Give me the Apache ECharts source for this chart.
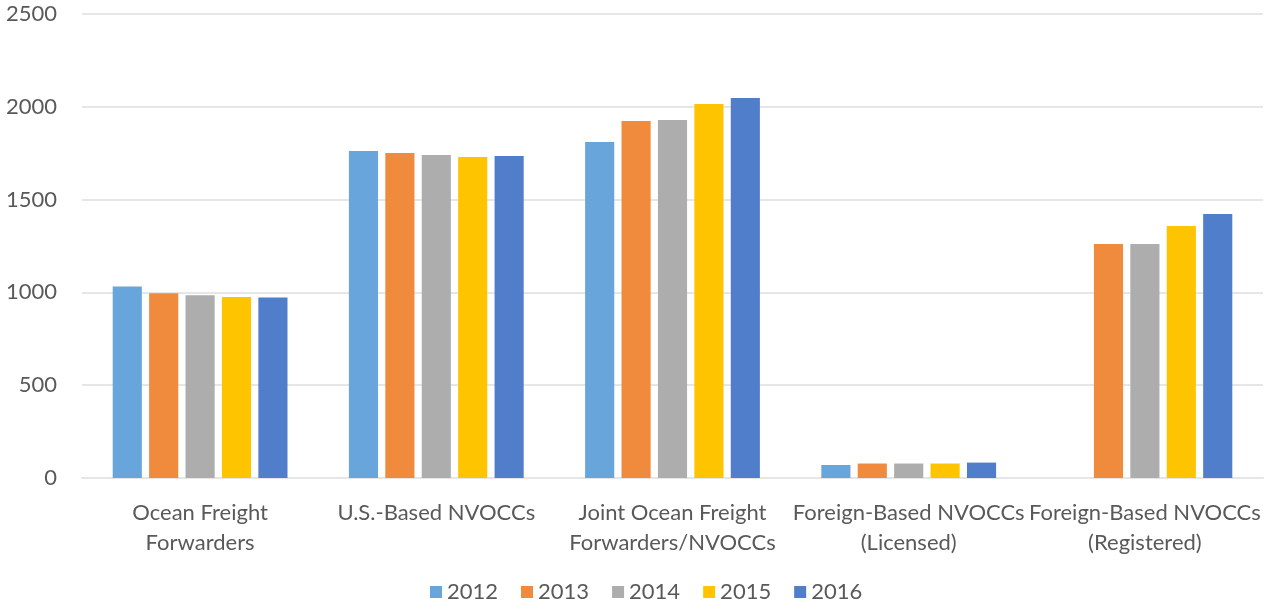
<!DOCTYPE html>
<html>
<head>
<meta charset="utf-8">
<script src="https://cdn.jsdelivr.net/npm/echarts@6/dist/echarts.min.js"></script>
<style>
html,body{margin:0;padding:0;background:#fff;}
#chart{width:1273px;height:605px;}
</style>
</head>
<body>
<div id="chart"></div>
<script>
const categories = [
  "Ocean Freight\nForwarders",
  "U.S.-Based NVOCCs",
  "Joint Ocean Freight\nForwarders/NVOCCs",
  "Foreign-Based NVOCCs\n(Licensed)",
  "Foreign-Based NVOCCs\n(Registered)"
];
const years = ["2012", "2013", "2014", "2015", "2016"];
const v2012 = [1032, 1762, 1810, 70, null];
const v2013 = [995, 1751, 1923, 78, 1261];
const v2014 = [984, 1740, 1929, 78, 1261];
const v2015 = [975, 1730, 2015, 78, 1358];
const v2016 = [973, 1735, 2047, 83, 1422];
const seriesValues = [v2012, v2013, v2014, v2015, v2016];
const colors = ["#67A5DA", "#F08A3C", "#ADADAD", "#FFC400", "#507ECA"];

const FONT = "Lato";
const chart = echarts.init(document.getElementById('chart'));
chart.setOption({
  animation: false,
  textStyle: { fontFamily: FONT },
  grid: { left: 82, right: 10, top: 14, bottom: 127, containLabel: false },
  legend: {
    bottom: -3,
    left: 425,
    itemWidth: 12,
    itemHeight: 12,
    itemGap: 23,
    icon: 'rect',
    textStyle: { fontSize: 22, color: '#595959', fontFamily: FONT, padding: [0, 0, 0, 0] },
    data: years
  },
  xAxis: {
    type: 'category',
    data: categories,
    axisLine: { show: true, lineStyle: { color: '#E6E6E6', width: 2 } },
    axisTick: { show: false },
    axisLabel: { interval: 0, fontSize: 22, color: '#595959', lineHeight: 30, margin: 20, fontFamily: FONT }
  },
  yAxis: {
    type: 'value',
    min: 0, max: 2500, interval: 500,
    axisLine: { show: false },
    axisTick: { show: false },
    axisLabel: { fontSize: 22, color: '#595959', margin: 25, fontFamily: FONT, formatter: v => String(v) },
    splitLine: { lineStyle: { color: '#E6E6E6', width: 2 } }
  },
  series: years.map((y, i) => ({
    name: y,
    type: 'bar',
    data: seriesValues[i],
    itemStyle: { color: colors[i] },
    barGap: '25%',
    barCategoryGap: '26%'
  }))
});
</script>
</body>
</html>
